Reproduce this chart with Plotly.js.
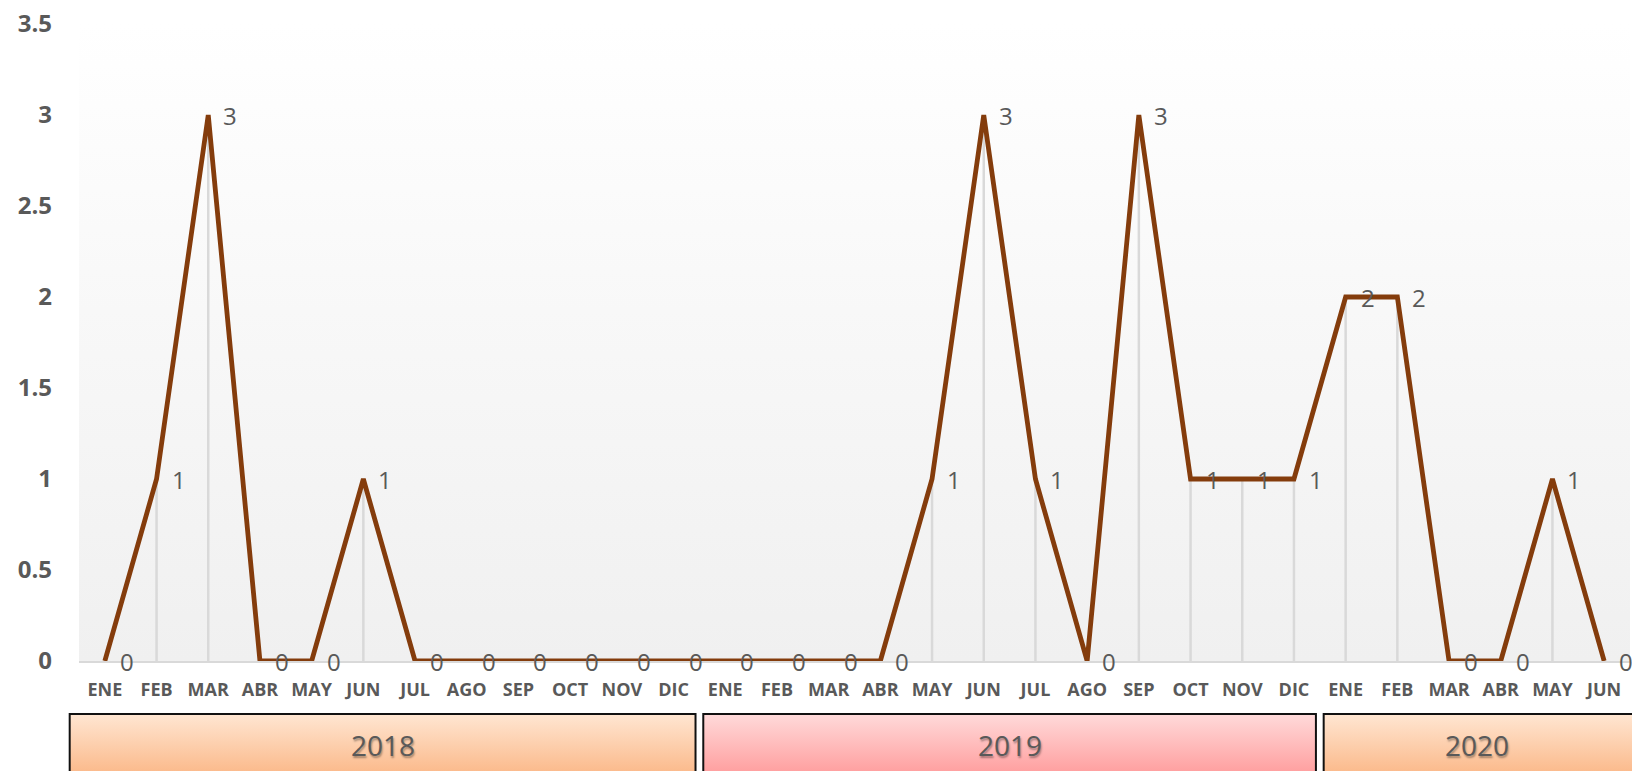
<!DOCTYPE html>
<html>
<head>
<meta charset="utf-8">
<script src="https://cdn.plot.ly/plotly-3.0.1.min.js"></script>
<style>
  html, body { margin: 0; padding: 0; background: #ffffff; }
  #chart { width: 1632px; height: 771px; }
</style>
</head>
<body>
<div id="chart"></div>
<script>
// ---- data ----
const months = ['ENE','FEB','MAR','ABR','MAY','JUN','JUL','AGO','SEP','OCT','NOV','DIC',
                'ENE','FEB','MAR','ABR','MAY','JUN','JUL','AGO','SEP','OCT','NOV','DIC',
                'ENE','FEB','MAR','ABR','MAY','JUN'];
const values = [0,1,3,0,0,1,0,0,0,0,0,0,
                0,0,0,0,1,3,1,0,3,1,1,1,
                2,2,0,0,1,0];
const years = ['2018','2019','2020'];
const yearStart = [0, 12, 24];
const yearEnd = [11, 23, 29];

// ---- styles ----
const W = 1632, H = 771;
const M = {l: 79, r: 2, t: 24, b: 110};
const plotH = H - M.t - M.b;
const xr = [-0.5, months.length - 0.5];
const yr = [0, 3.5];
const txtColor = '#595959';
const FONT = 'Open Sans, Liberation Sans, sans-serif';
const boxColors = [
  ['#ffe6d2', '#fbb98a'],
  ['#ffdada', '#ff9e9e'],
  ['#ffe6d2', '#fbb98a']
];

const idx = months.map((_, i) => i);
const frac = v => (v - xr[0]) / (xr[1] - xr[0]);
const pyBelow = px => -px / plotH; // pixels below the x axis -> paper y

// background gradient of plot area
const bg = {
  x: [xr[0], xr[1], xr[1], xr[0], xr[0]],
  y: [yr[0], yr[0], yr[1], yr[1], yr[0]],
  mode: 'none', fill: 'toself', hoverinfo: 'skip', showlegend: false,
  fillcolor: '#f6f6f6',
  fillgradient: {type: 'vertical', colorscale: [[0, '#f0f0f0'], [0.55, '#f8f8f8'], [1, '#ffffff']]}
};

// drop lines
const dx = [], dy = [];
idx.forEach(i => { dx.push(i, i, null); dy.push(0, values[i], null); });
const drop = {
  x: dx, y: dy, mode: 'lines', hoverinfo: 'skip', showlegend: false,
  line: {color: '#d9d9d9', width: 2.5}
};

const main = {
  x: idx, y: values, mode: 'lines', showlegend: false,
  line: {color: '#843c0c', width: 4.8},
  hovertemplate: '%{y}<extra></extra>'
};

const annotations = idx.map(i => ({
  x: i, y: values[i], xref: 'x', yref: 'y', text: String(values[i]),
  showarrow: false, xanchor: 'center', yanchor: 'middle', xshift: 22, yshift: 0,
  font: {family: FONT, size: 24, color: txtColor}
}));

const shapes = [];
const images = [];
const boxTop = pyBelow(53);
const boxBot = pyBelow(113);
years.forEach((yname, k) => {
  const x0 = yearStart[k] - 0.5 + (k === 0 ? -0.18 : 0.075);
  const x1 = yearEnd[k] + 0.5 + (k === years.length - 1 ? 0.4 : -0.075);
  const f0 = frac(x0), f1 = frac(x1);
  const c = boxColors[k];
  const svg = '<svg xmlns="http://www.w3.org/2000/svg" width="200" height="200" viewBox="0 0 200 200">' +
    '<defs><linearGradient id="g" x1="0" y1="0" x2="0" y2="1">' +
    '<stop offset="0" stop-color="' + c[0] + '"/><stop offset="1" stop-color="' + c[1] + '"/>' +
    '</linearGradient></defs><rect x="0" y="0" width="200" height="200" fill="url(#g)"/></svg>';
  images.push({
    source: 'data:image/svg+xml;charset=utf-8,' + encodeURIComponent(svg),
    xref: 'paper', yref: 'paper', x: f0, y: boxTop, sizex: f1 - f0, sizey: boxTop - boxBot,
    xanchor: 'left', yanchor: 'top', sizing: 'stretch', layer: 'above'
  });
  shapes.push({
    type: 'rect', xref: 'paper', yref: 'paper', x0: f0, x1: f1, y0: boxBot, y1: boxTop,
    line: {color: '#111111', width: 2}, fillcolor: 'rgba(0,0,0,0)', layer: 'above'
  });
  annotations.push({
    x: (f0 + (k === years.length - 1 ? frac(yearEnd[k] + 0.5) : f1)) / 2,
    y: pyBelow(84), xref: 'paper', yref: 'paper', text: yname, showarrow: false,
    xanchor: 'center', yanchor: 'middle',
    font: {family: FONT, size: 28, color: txtColor, shadow: '1px 2px 2px rgba(0,0,0,0.35)'}
  });
});

const layout = {
  width: W, height: H, margin: M,
  paper_bgcolor: '#ffffff', plot_bgcolor: 'rgba(0,0,0,0)',
  showlegend: false,
  xaxis: {
    range: xr, tickmode: 'array', tickvals: idx, ticktext: months,
    tickfont: {family: FONT, size: 18, color: txtColor, weight: 'bold'},
    showgrid: false, zeroline: false, showline: true, linecolor: '#d9d9d9', linewidth: 1.5,
    ticks: '', ticklabelstandoff: 12, fixedrange: true
  },
  yaxis: {
    range: yr, tick0: 0, dtick: 0.5,
    tickfont: {family: FONT, size: 24, color: txtColor, weight: 'bold'},
    showgrid: false, zeroline: false, showline: false, ticks: '',
    ticklabelstandoff: 26, fixedrange: true
  },
  annotations: annotations,
  shapes: shapes,
  images: images
};

Plotly.newPlot('chart', [bg, drop, main], layout, {displayModeBar: false, staticPlot: false});
</script>
</body>
</html>
